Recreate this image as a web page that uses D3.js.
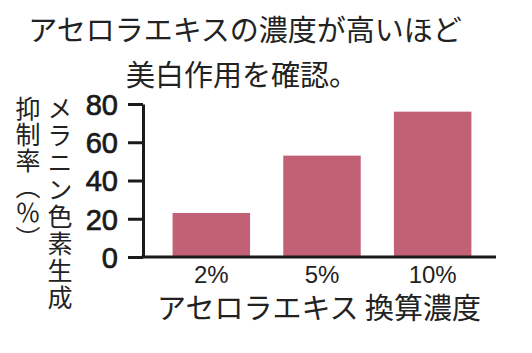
<!DOCTYPE html>
<html>
<head>
<meta charset="utf-8">
<script src="https://cdn.jsdelivr.net/npm/d3@7"></script>
<style>
  body { margin: 0; background: #fff; }
  svg { display: block; }
</style>
</head>
<body>
<div id="main"></div>
<script>
const categories = ["2%", "5%", "10%"];
const values = [23, 53, 76];
const yTicks = [0, 20, 40, 60, 80];
const titleLines = ["アセロラエキスの濃度が高いほど", "美白作用を確認。"];
const yLabelCols = ["メラニン色素生成", "抑制率（％）"];
const xLabel = "アセロラエキス 換算濃度";

const width = 532, height = 353;
const jpFont = "'Noto Sans CJK JP', sans-serif";
const numFont = "'Liberation Sans', Arial, sans-serif";

var svg = d3.select('#main')
    .append('svg')
    .attr('width', width)
    .attr('height', height);

// scales
const x = d3.scaleBand()
    .domain(categories)
    .range([156, 488])
    .paddingInner(0.3)
    .paddingOuter(0.15);

const y = d3.scaleLinear()
    .domain([0, 80])
    .range([257, 104]);

// title
svg.selectAll('text.title')
    .data(titleLines)
    .enter()
    .append('text')
    .attr('class', 'title')
    .attr('x', (d, i) => i == 0 ? 245 : 242)
    .attr('y', (d, i) => 41 + i * 45)
    .attr('text-anchor', 'middle')
    .style('font-family', jpFont)
    .style('font-size', '29px')
    .style('fill', '#222')
    .text(d => d);

// bars
svg.selectAll('rect.bar')
    .data(values)
    .enter()
    .append('rect')
    .attr('class', 'bar')
    .attr('x', (d, i) => x(categories[i]))
    .attr('y', d => y(d))
    .attr('width', x.bandwidth())
    .attr('height', d => y(0) - y(d))
    .attr('fill', '#c26076');

// y axis
const yAxis = svg.append('g')
    .attr('transform', 'translate(143,0)')
    .call(d3.axisLeft(y).tickValues(yTicks).tickSize(15).tickSizeOuter(0).tickPadding(10));

yAxis.select('.domain').attr('stroke', '#1a1a1a').attr('stroke-width', 3);
yAxis.selectAll('.tick line').attr('stroke', '#1a1a1a').attr('stroke-width', 3);
yAxis.selectAll('.tick text')
    .style('font-family', numFont)
    .style('font-size', '29px')
    .style('fill', '#1a1a1a')
    .style('stroke', '#1a1a1a')
    .style('stroke-width', '0.7px')
    .attr('dy', '0.36em');

// x baseline
svg.append('line')
    .attr('x1', 141.5)
    .attr('x2', 496)
    .attr('y1', y(0))
    .attr('y2', y(0))
    .attr('stroke', '#1a1a1a')
    .attr('stroke-width', 3);

// x tick labels
svg.selectAll('text.xlab')
    .data(categories)
    .enter()
    .append('text')
    .attr('class', 'xlab')
    .attr('x', d => x(d) + x.bandwidth() / 2)
    .attr('y', 283)
    .attr('text-anchor', 'middle')
    .style('font-family', numFont)
    .style('font-size', '24px')
    .style('fill', '#222')
    .text(d => d);

// x axis title
svg.append('text')
    .attr('x', 319)
    .attr('y', 319)
    .attr('text-anchor', 'middle')
    .style('font-family', jpFont)
    .style('font-size', '29px')
    .style('fill', '#222')
    .text(xLabel);

// y axis title, vertical, two columns
svg.selectAll('text.ylab')
    .data(yLabelCols)
    .enter()
    .append('text')
    .attr('class', 'ylab')
    .attr('x', (d, i) => i == 0 ? 60 : 28)
    .attr('y', 96)
    .style('writing-mode', 'vertical-rl')
    .style('font-family', jpFont)
    .style('font-size', '25px')
    .style('letter-spacing', (d, i) => i == 0 ? '2px' : '1px')
    .style('fill', '#222')
    .text(d => d);
</script>
</body>
</html>
